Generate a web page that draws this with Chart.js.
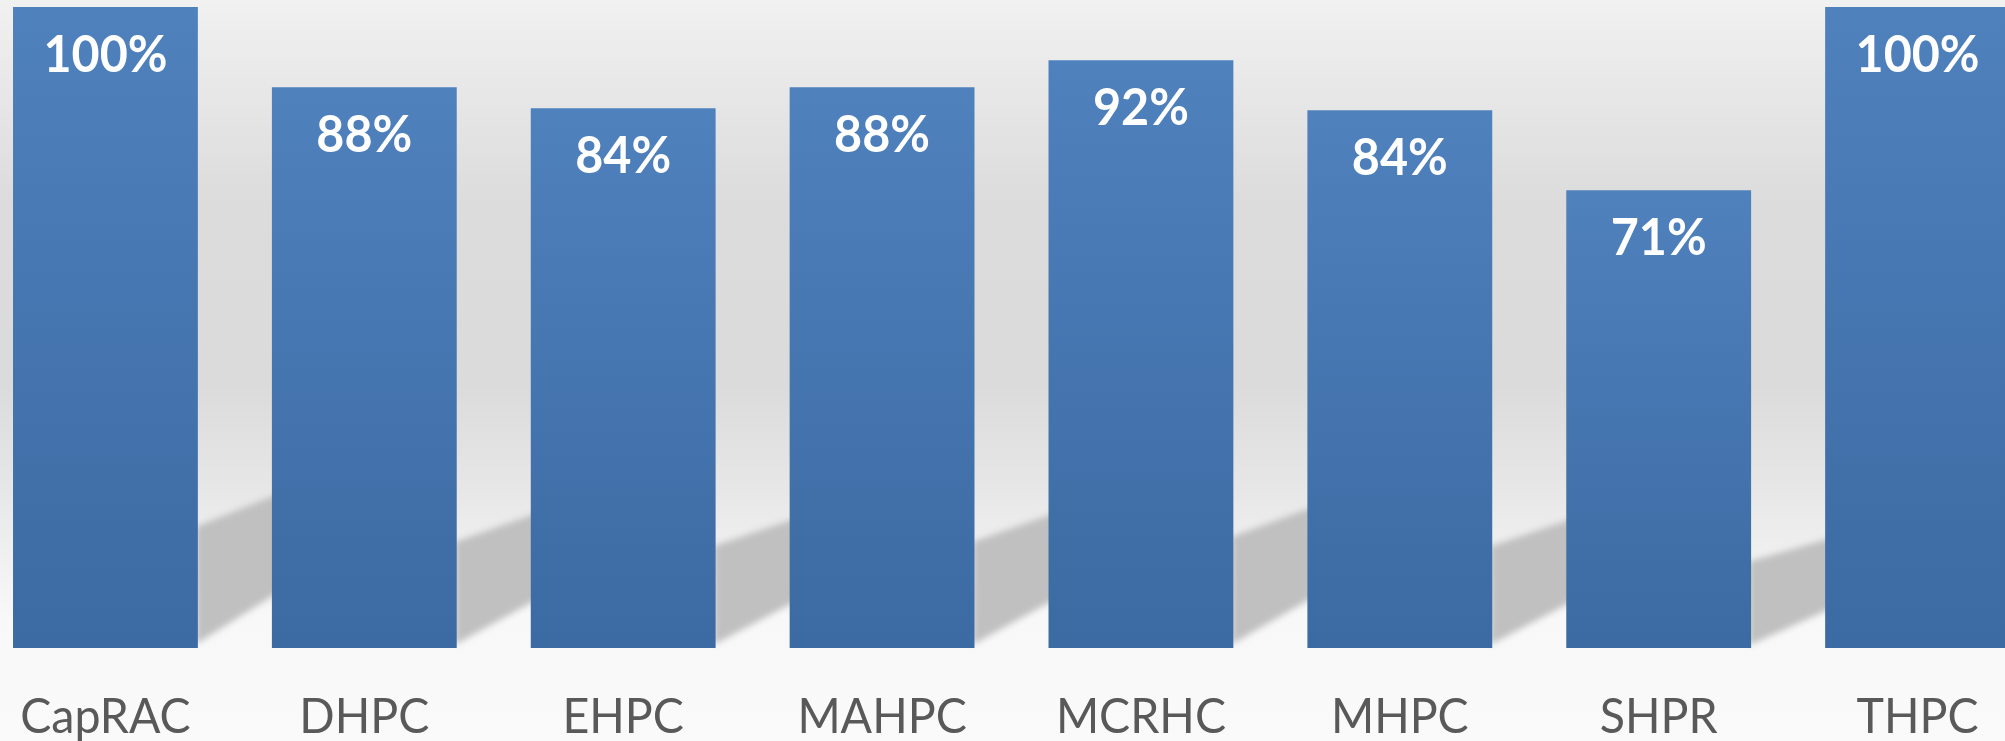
<!DOCTYPE html>
<html>
<head>
<meta charset="utf-8">
<script src="https://cdn.jsdelivr.net/npm/chart.js@4/dist/chart.umd.min.js"></script>
<style>
  html, body { margin: 0; padding: 0; overflow: hidden; background: #fafafa; }
  #wrap { position: absolute; left: -24px; top: 0; width: 2071px; height: 741px; }
</style>
</head>
<body>
<div id="wrap"><canvas id="graph" width="2071" height="741"></canvas></div>
<script>
// chart data
var categories = ['CapRAC', 'DHPC', 'EHPC', 'MAHPC', 'MCRHC', 'MHPC', 'SHPR', 'THPC'];
var shares = [100, 87.5, 84.2, 87.5, 91.7, 83.9, 71.4, 100];

var canvas = document.getElementById('graph');

// page background: soft grey gradient, lighter towards the floor
var backdrop = {
    id: 'backdrop',
    beforeDraw: function (chart) {
        var ctx = chart.ctx;
        var g = ctx.createLinearGradient(0, 0, 0, chart.height);
        g.addColorStop(0, '#f1f1f1');
        g.addColorStop(0.27, '#dcdcdc');
        g.addColorStop(0.52, '#dbdbdb');
        g.addColorStop(0.66, '#e7e7e7');
        g.addColorStop(0.83, '#f8f8f8');
        g.addColorStop(1, '#fafafa');
        ctx.save();
        ctx.fillStyle = g;
        ctx.fillRect(0, 0, chart.width, chart.height);
        ctx.restore();
    },
    // perspective shadow falling behind each bar to the upper right
    beforeDatasetsDraw: function (chart) {
        var ctx = chart.ctx;
        var meta = chart.getDatasetMeta(0);
        ctx.save();
        ctx.filter = 'blur(3px)';
        ctx.fillStyle = '#c0c0c0';
        meta.data.forEach(function (bar) {
            var p = bar.getProps(['x', 'y', 'base', 'width'], true);
            var h = p.base - p.y;
            var xr = p.x + p.width / 2;
            var run = 110;
            ctx.beginPath();
            ctx.moveTo(xr - 2, p.base - 0.006 * h);
            ctx.lineTo(xr + run, p.base - (0.006 + 0.074 * run / 74) * h);
            ctx.lineTo(xr + run, p.base - (0.189 + 0.047 * run / 74) * h);
            ctx.lineTo(xr - 2, p.base - 0.189 * h);
            ctx.closePath();
            ctx.fill();
        });
        ctx.restore();
    },
    // value labels inside bars and category names under them
    afterDatasetsDraw: function (chart) {
        var ctx = chart.ctx;
        var meta = chart.getDatasetMeta(0);
        var xs = chart.scales.x;
        ctx.save();
        ctx.textAlign = 'center';
        ctx.textBaseline = 'alphabetic';
        meta.data.forEach(function (bar, i) {
            var p = bar.getProps(['x', 'y'], true);
            ctx.save();
            ctx.translate(p.x, p.y + 65);
            ctx.scale(0.95, 1);
            ctx.fillStyle = '#ffffff';
            ctx.font = 'bold 51px Lato';
            ctx.fillText(Math.round(shares[i]) + '%', 0, 0);
            ctx.restore();
        });
        categories.forEach(function (name, i) {
            ctx.save();
            ctx.translate(xs.getPixelForTick(i), 733);
            ctx.scale(0.95, 1);
            ctx.fillStyle = '#595959';
            ctx.font = '49px Lato';
            ctx.fillText(name, 0, 0);
            ctx.restore();
        });
        ctx.restore();
    }
};

function barFill(context) {
    var chart = context.chart;
    if (!chart.chartArea || !chart.scales.y) return '#4a7ab5';
    var ys = chart.scales.y;
    var top = ys.getPixelForValue(shares[context.dataIndex]);
    var g = chart.ctx.createLinearGradient(0, top, 0, chart.chartArea.bottom);
    g.addColorStop(0, '#4f81bd');
    g.addColorStop(1, '#3c6aa2');
    return g;
}

var chart = new Chart(canvas, {
    type: 'bar',
    data: {
        labels: categories,
        datasets: [{
            label: 'Share',
            data: shares,
            backgroundColor: barFill,
            borderWidth: 0,
            barPercentage: 0.714,
            categoryPercentage: 1
        }]
    },
    options: {
        responsive: false,
        animation: false,
        layout: { padding: { top: 7, bottom: 93, left: 0, right: 0 } },
        plugins: { legend: { display: false }, tooltip: { enabled: false } },
        scales: {
            x: { display: false, offset: true },
            y: { display: false, min: 0, max: 100 }
        }
    },
    plugins: [backdrop]
});
</script>
</body>
</html>
